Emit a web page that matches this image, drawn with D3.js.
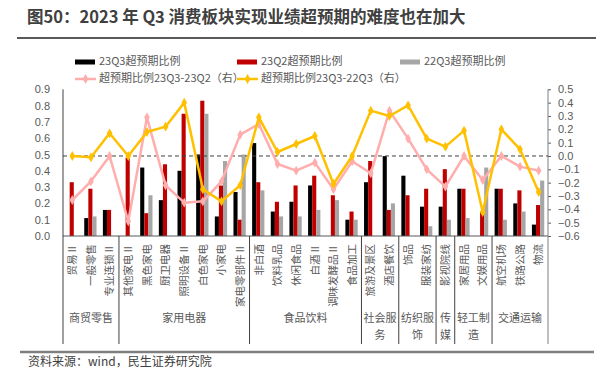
<!DOCTYPE html>
<html>
<head>
<meta charset="utf-8">
<script src="https://cdn.jsdelivr.net/npm/d3@7"></script>
<style>
  body { margin: 0; background: #fff; }
  text { font-family: "Noto Sans CJK SC", "Noto Sans", sans-serif; }
  .tick text { font-family: "Liberation Sans", "DejaVu Sans", sans-serif; }
</style>
</head>
<body>
<div class="chart"></div>
<script>
// 行业
var categories = ['贸易Ⅱ','一般零售','专业连锁Ⅱ','其他家电Ⅱ','黑色家电','厨卫电器','照明设备Ⅱ','白色家电','小家电','家电零部件Ⅱ',
  '非白酒','饮料乳品','休闲食品','白酒Ⅱ','调味发酵品Ⅱ','食品加工','旅游及景区','酒店餐饮','饰品','服装家纺',
  '影视院线','家居用品','文娱用品','航空机场','铁路公路','物流'];

// 一级行业 (名称, 行业个数, 换行后的文字)
var groupNames = ['商贸零售','家用电器','食品饮料','社会服务','纺织服饰','传媒','轻工制造','交通运输'];
var groupSizes = [3, 7, 6, 2, 2, 1, 2, 3];
var groupLines = [['商贸零售'],['家用电器'],['食品饮料'],['社会服','务'],['纺织服','饰'],['传','媒'],['轻工制','造'],['交通运输']];

// 左轴
var q3_23 = [0, 0.11, 0.16, 0, 0.42, 0.22, 0.40, 0.50, 0.12, 0.27, 0.57, 0.15, 0.21, 0.31, 0, 0.10, 0.33, 0.49, 0.37, 0.18, 0.18, 0.29, 0, 0.29, 0.20, 0.07];
var q2_23 = [0.33, 0.29, 0.16, 0.48, 0.14, 0.44, 0.75, 0.83, 0.31, 0.10, 0.33, 0.21, 0.31, 0.37, 0.25, 0.15, 0.46, 0.16, 0.25, 0.29, 0.41, 0.29, 0.15, 0.29, 0.28, 0.19];
var q3_22 = [0, 0.12, 0, 0, 0.25, 0, 0, 0.75, 0.46, 0.50, 0.28, 0.12, 0.12, 0.16, 0.22, 0.10, 0, 0.20, 0, 0.06, 0.10, 0.11, 0.42, 0.10, 0.15, 0.34];

// 右轴
var diff_q2 = [-0.33, -0.19, 0.0, -0.49, 0.29, -0.22, -0.35, -0.34, -0.19, 0.16, 0.24, -0.06, -0.11, -0.05, -0.25, -0.04, -0.13, 0.34, 0.13, -0.10, -0.23, 0.0, -0.18, 0.0, -0.08, -0.11];
var diff_q3 = [0.0, -0.01, 0.17, 0.0, 0.18, 0.22, 0.40, -0.25, -0.34, -0.22, 0.29, 0.03, 0.09, 0.15, -0.21, 0.0, 0.34, 0.30, 0.38, 0.13, 0.07, 0.19, -0.42, 0.20, 0.05, -0.27];

var leftTicks = [0, 0.1, 0.2, 0.3, 0.4, 0.5, 0.6, 0.7, 0.8, 0.9];
var rightTicks = [-0.6, -0.5, -0.4, -0.3, -0.2, -0.1, 0, 0.1, 0.2, 0.3, 0.4, 0.5];

var barNames = ['23Q3超预期比例', '23Q2超预期比例', '22Q3超预期比例'];
var lineNames = ['超预期比例23Q3-23Q2（右）', '超预期比例23Q3-22Q3（右）'];

var barColors = ['#000000', '#C00000', '#A6A6A6'];
var lineColors = ['#FFADAD', '#FFC000'];

var W = 609, H = 386;
var pLeft = 63, pRight = 548, pTop = 89.3, pBase = 236, pBottom = 344;

var svg = d3.select(".chart").append("svg")
    .attr("width", W).attr("height", H);

// 标题
svg.append("text")
    .attr("x", 27).attr("y", 19)
    .attr("dominant-baseline", "middle")
    .attr("font-size", "16.5px").attr("font-weight", "bold")
    .style("fill", "#404040")
    .text("图50：2023 年 Q3 消费板块实现业绩超预期的难度也在加大");

svg.append("line").attr("x1", 17).attr("x2", 596).attr("y1", 38).attr("y2", 38)
    .style("stroke", "#595959").style("stroke-width", 2);
svg.append("line").attr("x1", 20).attr("x2", 594).attr("y1", 352).attr("y2", 352)
    .style("stroke", "#7f7f7f").style("stroke-width", 2.5);

svg.append("text")
    .attr("x", 28).attr("y", 363)
    .attr("dominant-baseline", "middle")
    .attr("font-size", "12px")
    .style("fill", "#404040")
    .text("资料来源：wind，民生证券研究院");

var x = d3.scaleBand().domain(categories).range([pLeft, pRight]);
var sub = d3.scaleBand().domain([0, 1, 2]).range([0, 12.3]);
var yL = d3.scaleLinear().domain([0, 0.9]).range([pBase, pTop]);
var yR = d3.scaleLinear().domain([-0.6, 0.5]).range([pBase, pTop]);

// 柱子
var series = [q3_23, q2_23, q3_22];
series.forEach(function(vals, k) {
  svg.append("g").selectAll("rect")
    .data(vals)
    .enter().append("rect")
    .attr("x", function(d, i) { return x(categories[i]) + (x.bandwidth() - 12.3) / 2 - 0.6 + sub(k); })
    .attr("width", sub.bandwidth())
    .attr("y", function(d) { return yL(d); })
    .attr("height", function(d) { return pBase - yL(d); })
    .style("fill", barColors[k]);
});

// 左轴
var gL = svg.append("g").attr("transform", "translate(" + pLeft + ",0)")
    .call(d3.axisLeft(yL).tickValues(leftTicks).tickSize(0).tickPadding(13).tickFormat(d3.format(".1f")));
gL.select(".domain").remove();
gL.selectAll("text").attr("font-size", "11px").style("fill", "#595959");

// 右轴
var gR = svg.append("g").attr("transform", "translate(" + pRight + ",0)")
    .call(d3.axisRight(yR).tickValues(rightTicks).tickSize(3).tickPadding(7).tickFormat(d3.format(".1f")));
gR.select(".domain").remove();
gR.selectAll("line").style("stroke", "#595959");
gR.selectAll("text").attr("font-size", "11px").style("fill", "#595959");

// 轴线 + 分组线
svg.append("line").attr("x1", pLeft).attr("x2", pRight).attr("y1", pBase).attr("y2", pBase)
    .style("stroke", "#595959").style("stroke-width", 1);
var cum = 0, bounds = [0];
groupSizes.forEach(function(n) { cum += n; bounds.push(cum); });
svg.append("g").selectAll("line")
    .data(bounds)
    .enter().append("line")
    .attr("x1", function(d) { return pLeft + d * x.step(); })
    .attr("x2", function(d) { return pLeft + d * x.step(); })
    .attr("y1", function(d) { return (d == 0 || d == categories.length) ? pTop : pBase; })
    .attr("y2", pBottom)
    .style("stroke", function(d) { return d == categories.length ? "#808080" : "#404040"; })
    .style("stroke-width", 1);

// 右轴0的虚线
svg.append("line").attr("x1", pLeft).attr("x2", pRight).attr("y1", yR(0)).attr("y2", yR(0))
    .style("stroke", "#404040").style("stroke-width", 1).style("stroke-dasharray", "4,3");

// 折线
var diamond = d3.symbol().type(d3.symbolDiamond).size(28);
[diff_q2, diff_q3].forEach(function(vals, k) {
  var line = d3.line()
    .x(function(d, i) { return x(categories[i]) + x.bandwidth() / 2; })
    .y(function(d) { return yR(d); });
  svg.append("path").datum(vals)
    .attr("d", line)
    .style("fill", "none")
    .style("stroke", lineColors[k])
    .style("stroke-width", 2.5)
    .style("stroke-linejoin", "round");
  svg.append("g").selectAll("path")
    .data(vals)
    .enter().append("path")
    .attr("d", diamond)
    .attr("transform", function(d, i) { return "translate(" + (x(categories[i]) + x.bandwidth() / 2) + "," + yR(d) + ")"; })
    .style("fill", lineColors[k]);
});

// 行业名 竖排
svg.append("g").selectAll("text")
    .data(categories)
    .enter().append("text")
    .attr("transform", function(d) { return "translate(" + (x(d) + x.bandwidth() / 2) + ",244) rotate(-90)"; })
    .attr("dy", "0.35em")
    .attr("text-anchor", "end")
    .attr("font-size", "10.5px")
    .style("fill", "#595959")
    .text(function(d) { return d; });

// 一级行业名
groupLines.forEach(function(lines, g) {
  var cx = pLeft + (bounds[g] + bounds[g + 1]) / 2 * x.step();
  lines.forEach(function(t, j) {
    svg.append("text")
      .attr("x", cx).attr("y", 319 + j * 17)
      .attr("text-anchor", "middle")
      .attr("dominant-baseline", "middle")
      .attr("font-size", "11px")
      .style("fill", "#595959")
      .text(t);
  });
});

// 图例
var legX = [75, 237, 400];
barNames.forEach(function(name, k) {
  svg.append("rect").attr("x", legX[k]).attr("y", 59.5).attr("width", 20).attr("height", 5)
    .style("fill", barColors[k]);
  svg.append("text").attr("x", legX[k] + 24).attr("y", 62)
    .attr("dominant-baseline", "middle").attr("font-size", "11px")
    .style("fill", "#595959").text(name);
});
lineNames.forEach(function(name, k) {
  svg.append("line").attr("x1", legX[k]).attr("x2", legX[k] + 21).attr("y1", 79).attr("y2", 79)
    .style("stroke", lineColors[k]).style("stroke-width", 2.5);
  svg.append("path").attr("d", diamond)
    .attr("transform", "translate(" + (legX[k] + 10.5) + ",79)")
    .style("fill", lineColors[k]);
  svg.append("text").attr("x", legX[k] + 24).attr("y", 79)
    .attr("dominant-baseline", "middle").attr("font-size", "11px")
    .style("fill", "#595959").text(name);
});
</script>
</body>
</html>
